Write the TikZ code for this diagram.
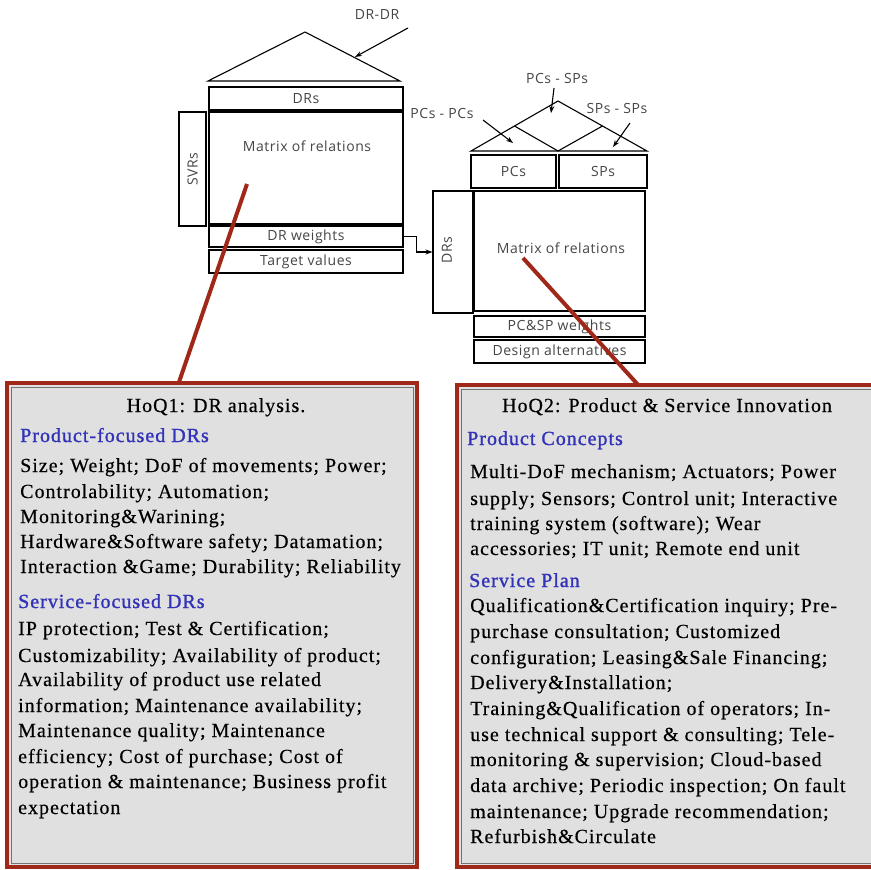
\documentclass[tikz,border=0pt]{standalone}
\usepackage{fontspec}
\setmainfont{Liberation Serif}
\newfontfamily\bodyf[LetterSpace=5,FakeBold=0.4]{Liberation Serif}
\newfontfamily\headf[LetterSpace=5,FakeBold=1.2]{Liberation Serif}
\newfontfamily\sansf[LetterSpace=4]{Open Sans}
\usetikzlibrary{arrows.meta}
\definecolor{hred}{RGB}{160,40,25}
\definecolor{hblue}{RGB}{50,50,185}
\definecolor{hgray}{RGB}{224,224,224}
\definecolor{tgray}{RGB}{70,70,70}
\begin{document}
\begin{tikzpicture}[x=1pt,y=-1pt,
  cell/.style={draw, line width=1.1pt, inner sep=0pt, font=\sansf\fontsize{14}{16}\selectfont, text=tgray},
  lab/.style={inner sep=0pt, font=\sansf\fontsize{14}{16}\selectfont, text=tgray},
  roofline/.style={line width=1.1pt},
  tip/.style={line width=1.1pt, -{Stealth[length=7pt,width=5pt]}},
  redline/.style={draw=hred, line width=4pt},
  panel/.style={draw=hred, line width=3.5pt, fill=hgray, inner sep=0pt},
  panelin/.style={draw=black!55, line width=0.6pt, inner sep=0pt},
  body/.style={inner sep=0pt, anchor=base west, font=\bodyf\fontsize{20}{24}\selectfont},
  head/.style={inner sep=0pt, anchor=base west, font=\headf\fontsize{20}{24}\selectfont, text=hblue},
  ttl/.style={inner sep=0pt, anchor=base, font=\bodyf\fontsize{20}{24}\selectfont}]
\useasboundingbox (0,0) rectangle (870,870);
\fill[white] (0,0) rectangle (870,870);

% ---------- house 1 ----------
\coordinate (r1l) at (208,81);
\coordinate (r1t) at (305,32);
\coordinate (r1r) at (400,81);
\draw[roofline] (r1l) -- (r1t) -- (r1r) -- cycle;
\node[cell, minimum width=194, minimum height=23] (dr1) at (306,98.5) {DRs};
\node[cell, minimum width=194, minimum height=112] (mat1) at (306,168) {};
\node[lab] (mat1t) at (307,146) {Matrix of relations};
\node[cell, minimum width=194, minimum height=21] (w1) at (306,236.5) {DR weights};
\node[cell, minimum width=194, minimum height=23] (tv1) at (306,261.5) {Target values};
\node[cell, rotate=90, minimum width=114, minimum height=27] (svr) at (192.5,169) {SVRs};

\node[lab] (ddl) at (377,15) {DR-DR};
\coordinate (dda) at (408,28);
\coordinate (ddb) at (355,57);
\draw[tip] (dda) -- (ddb);

% ---------- house 2 ----------
\coordinate (r2l) at (471,151);
\coordinate (r2t) at (558,101);
\coordinate (r2r) at (647,151);
\coordinate (r2m) at (558,151);
\coordinate (r2a) at (514.5,126);
\coordinate (r2b) at (602.5,126);
\draw[roofline] (r2l) -- (r2t) -- (r2r) -- cycle;
\draw[roofline] (r2a) -- (r2m) -- (r2b);
\node[cell, minimum width=85, minimum height=33] (pcs) at (513.5,171.5) {PCs};
\node[cell, minimum width=88, minimum height=33] (sps) at (603,171.5) {SPs};
\node[cell, minimum width=171, minimum height=120] (mat2) at (559.5,251) {};
\node[lab] (mat2t) at (561,248) {Matrix of relations};
\node[cell, rotate=90, minimum width=122, minimum height=40] (drs2) at (453,252) {};
\node[lab, rotate=90] (drs2t) at (447,250) {DRs};
\node[cell, minimum width=171, minimum height=21] (pcw) at (559.5,326.5) {PC\&SP weights};
\node[cell, minimum width=171, minimum height=23] (da) at (559.5,351.5) {Design alternatives};

\node[lab] (psl) at (557,78) {PCs - SPs};
\coordinate (psa) at (554,88);
\coordinate (psb) at (551,113);
\draw[tip] (psa) -- (psb);
\node[lab] (ppl) at (442,113) {PCs - PCs};
\coordinate (ppa) at (483,120);
\coordinate (ppb) at (513,143);
\draw[tip] (ppa) -- (ppb);
\node[lab] (ssl) at (617,108) {SPs - SPs};
\coordinate (ssa) at (630,123);
\coordinate (ssb) at (613,147);
\draw[tip] (ssa) -- (ssb);

\draw[line width=1.1pt, -{Stealth[length=7pt,width=5pt]}] (w1.east) -- ++(13,0) |- (drs2.north);

% ---------- red connectors ----------
\coordinate (c1a) at (247,184);
\coordinate (c1b) at (178,385);
\coordinate (c2a) at (523,258);
\coordinate (c2b) at (640,387);
\draw[redline] (c1a) -- (c1b);
\draw[redline] (c2a) -- (c2b);

% ---------- panels ----------
\node[panel, minimum width=410, minimum height=484] (box1) at (212,625) {};
\node[panelin, minimum width=402, minimum height=476] (box1in) at (212,625) {};
\node[panel, minimum width=418, minimum height=482] (box2) at (666,626) {};
\node[panelin, minimum width=410, minimum height=474] (box2in) at (666,626) {};

% ---------- panel 1 text ----------
\node[ttl] (t1) at (216,412) {HoQ1: DR analysis.};
\node[head] (h1a) at (20,442) {Product-focused DRs};
\foreach \y/\t in {472/{Size; Weight; DoF of movements; Power;},
                   498/{Controlability; Automation;},
                   523/{Monitoring\&Warining;},
                   548/{Hardware\&Software safety; Datamation;},
                   573/{Interaction \&Game; Durability; Reliability}}
  \node[body] (pa\y) at (20,\y) {\t};
\node[head] (h1b) at (18,608) {Service-focused DRs};
\foreach \y/\t in {635/{IP protection; Test \& Certification;},
                   662/{Customizability; Availability of product;},
                   686/{Availability of product use related},
                   712/{information; Maintenance availability;},
                   737/{Maintenance quality; Maintenance},
                   763/{efficiency; Cost of purchase; Cost of},
                   788/{operation \& maintenance; Business profit},
                   814/{expectation}}
  \node[body] (pb\y) at (18,\y) {\t};

% ---------- panel 2 text ----------
\node[ttl] (t2) at (667,412) {HoQ2: Product \& Service Innovation};
\node[head] (h2a) at (467,445) {Product Concepts};
\foreach \y/\t in {478/{Multi-DoF mechanism; Actuators; Power},
                   505/{supply; Sensors; Control unit; Interactive},
                   530/{training system (software); Wear},
                   555/{accessories; IT unit; Remote end unit}}
  \node[body] (qa\y) at (470,\y) {\t};
\node[head] (h2b) at (469,587) {Service Plan};
\foreach \y/\t in {612/{Qualification\&Certification inquiry; Pre-},
                   638/{purchase consultation; Customized},
                   664/{configuration; Leasing\&Sale Financing;},
                   689/{Delivery\&Installation;},
                   715/{Training\&Qualification of operators; In-},
                   741/{use technical support \& consulting; Tele-},
                   766/{monitoring \& supervision; Cloud-based},
                   792/{data archive; Periodic inspection; On fault},
                   818/{maintenance; Upgrade recommendation;},
                   843/{Refurbish\&Circulate}}
  \node[body] (qb\y) at (470,\y) {\t};
\end{tikzpicture}
\end{document}
